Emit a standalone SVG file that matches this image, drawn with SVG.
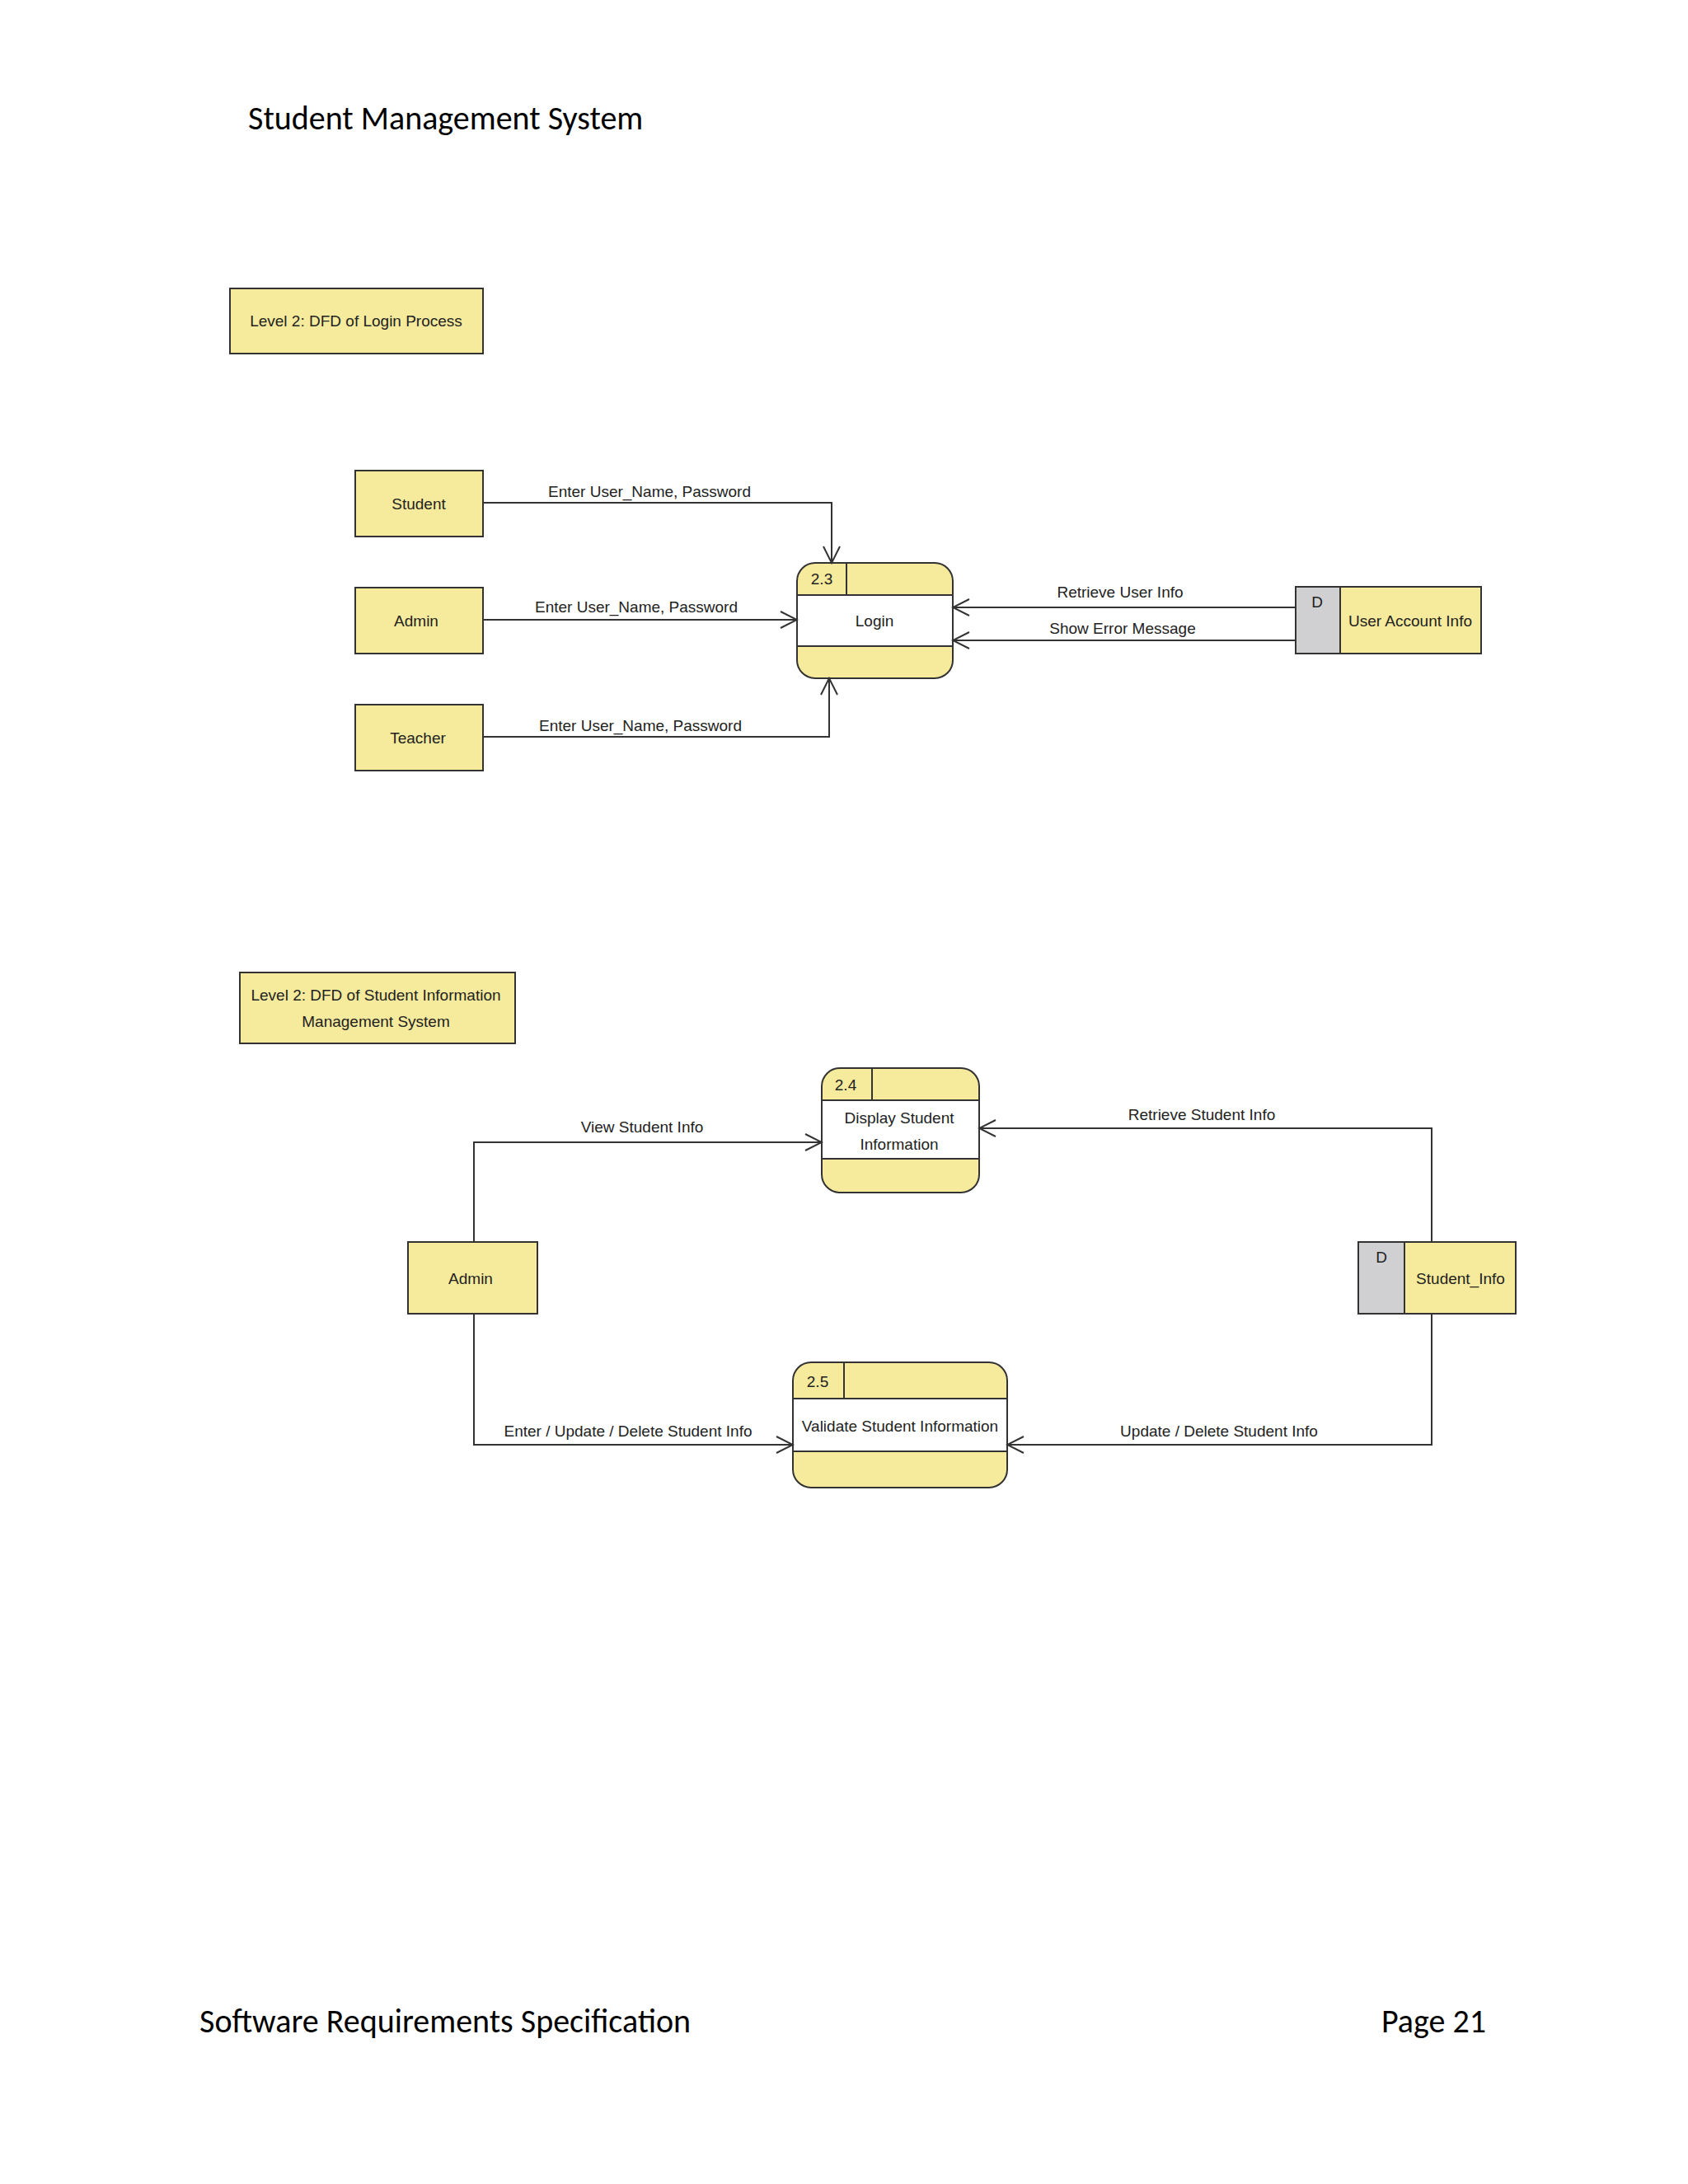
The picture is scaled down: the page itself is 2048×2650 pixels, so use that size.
<svg xmlns="http://www.w3.org/2000/svg" width="2048" height="2650" viewBox="0 0 2048 2650">
<style>
.bx{fill:#f6eb9c;stroke:#333;stroke-width:2}
.ln{fill:none;stroke:#333;stroke-width:2}
.gr{fill:#d0d0d2;stroke:#333;stroke-width:2}
.t{font-family:"Liberation Sans Narrow","Liberation Sans",sans-serif;font-size:19px;fill:#222;text-anchor:middle}
.pg{font-family:"Carlito","Open Sans","Liberation Sans",sans-serif;font-size:40px;fill:#000}
</style>
<defs>
<marker id="a" markerWidth="24" markerHeight="24" refX="22" refY="12" orient="auto" markerUnits="userSpaceOnUse">
<path d="M2,2 L22,12 L2,22" fill="none" stroke="#333" stroke-width="2"/>
</marker>
</defs>
<rect width="2048" height="2650" fill="#fff"/>
<text class="pg" x="301" y="157">Student Management System</text>
<text class="pg" x="242" y="2466">Software Requirements Specification</text>
<text class="pg" x="1803" y="2466" text-anchor="end">Page 21</text>

<g id="title1"><rect class="bx" x="279" y="350" width="307" height="79"/><text class="t" x="432" y="396">Level 2: DFD of Login Process</text></g>
<g id="student"><rect class="bx" x="431" y="571" width="155" height="80"/><text class="t" x="508" y="618">Student</text></g>
<g id="admin1"><rect class="bx" x="431" y="713" width="155" height="80"/><text class="t" x="505" y="760">Admin</text></g>
<g id="teacher"><rect class="bx" x="431" y="855" width="155" height="80"/><text class="t" x="507" y="902">Teacher</text></g>
<g id="p23"><rect class="bx" x="967" y="683" width="189" height="140" rx="22"/><rect x="968" y="722" width="187" height="62" fill="#fff"/><line class="ln" x1="967" y1="722" x2="1156" y2="722"/><line class="ln" x1="967" y1="784" x2="1156" y2="784"/><line class="ln" x1="1027" y1="683" x2="1027" y2="722"/><text class="t" x="997" y="709">2.3</text><text class="t" x="1061" y="760">Login</text></g>
<g id="uai"><rect class="bx" x="1572" y="712" width="225" height="81" stroke="none"/><line class="ln" x1="1572" y1="712" x2="1797" y2="712"/><line class="ln" x1="1572" y1="793" x2="1797" y2="793"/><rect class="gr" x="1572" y="712" width="54" height="81"/><text class="t" x="1598" y="737">D</text><text class="t" x="1711" y="760">User Account Info</text></g>

<g id="title2"><rect class="bx" x="291" y="1180" width="334" height="86"/><text class="t" x="456" y="1214">Level 2: DFD of Student Information</text><text class="t" x="456" y="1246">Management System</text></g>
<g id="p24"><rect class="bx" x="997" y="1296" width="191" height="151" rx="22"/><rect x="998" y="1335" width="189" height="71" fill="#fff"/><line class="ln" x1="997" y1="1335" x2="1188" y2="1335"/><line class="ln" x1="997" y1="1406" x2="1188" y2="1406"/><line class="ln" x1="1058" y1="1296" x2="1058" y2="1335"/><text class="t" x="1026" y="1323">2.4</text><text class="t" x="1091" y="1363">Display Student</text><text class="t" x="1091" y="1395">Information</text></g>
<g id="admin2"><rect class="bx" x="495" y="1507" width="157" height="87"/><text class="t" x="571" y="1558">Admin</text></g>
<g id="sinfo"><rect class="bx" x="1648" y="1507" width="191" height="87" stroke="none"/><line class="ln" x1="1648" y1="1507" x2="1839" y2="1507"/><line class="ln" x1="1648" y1="1594" x2="1839" y2="1594"/><rect class="gr" x="1648" y="1507" width="56" height="87"/><text class="t" x="1676" y="1532">D</text><text class="t" x="1772" y="1558">Student_Info</text></g>
<g id="p25"><rect class="bx" x="962" y="1653" width="260" height="152" rx="22"/><rect x="963" y="1697" width="258" height="64" fill="#fff"/><line class="ln" x1="962" y1="1697" x2="1222" y2="1697"/><line class="ln" x1="962" y1="1761" x2="1222" y2="1761"/><line class="ln" x1="1024" y1="1653" x2="1024" y2="1697"/><text class="t" x="992" y="1683">2.5</text><text class="t" x="1092" y="1737">Validate Student Information</text></g>

<g id="connectors">
<path class="ln" d="M586,610 H1009 V683" marker-end="url(#a)"/>
<path class="ln" d="M586,752 H967" marker-end="url(#a)"/>
<path class="ln" d="M586,894 H1006 V823" marker-end="url(#a)"/>
<path class="ln" d="M1572,737 H1156" marker-end="url(#a)"/>
<path class="ln" d="M1572,777 H1156" marker-end="url(#a)"/>
<path class="ln" d="M575,1507 V1386 H997" marker-end="url(#a)"/>
<path class="ln" d="M1737,1507 V1369 H1188" marker-end="url(#a)"/>
<path class="ln" d="M575,1594 V1753 H962" marker-end="url(#a)"/>
<path class="ln" d="M1737,1594 V1753 H1222" marker-end="url(#a)"/>
<text class="t" x="788" y="603">Enter User_Name, Password</text>
<text class="t" x="772" y="743">Enter User_Name, Password</text>
<text class="t" x="777" y="887">Enter User_Name, Password</text>
<text class="t" x="1359" y="725">Retrieve User Info</text>
<text class="t" x="1362" y="769">Show Error Message</text>
<text class="t" x="779" y="1374">View Student Info</text>
<text class="t" x="1458" y="1359">Retrieve Student Info</text>
<text class="t" x="762" y="1743">Enter / Update / Delete Student Info</text>
<text class="t" x="1479" y="1743">Update / Delete Student Info</text>
</g>
</svg>
